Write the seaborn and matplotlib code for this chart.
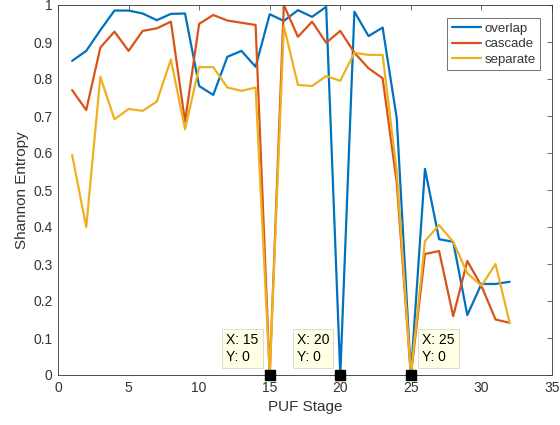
import numpy as np
import pandas as pd
import matplotlib
matplotlib.use("Agg")
import matplotlib.pyplot as plt
import seaborn as sns

# PUF stages and Shannon entropy of each construction
stages = list(range(1, 33))
overlap = [0.849, 0.876, 0.932, 0.985, 0.985, 0.977, 0.959, 0.976, 0.977, 0.781,
           0.757, 0.860, 0.876, 0.833, 0.975, 0.957, 0.986, 0.968, 0.995, 0.0,
           0.982, 0.916, 0.939, 0.694, 0.0, 0.557, 0.367, 0.360, 0.162, 0.246,
           0.246, 0.252]
cascade = [0.770, 0.716, 0.885, 0.928, 0.876, 0.930, 0.937, 0.955, 0.685, 0.949,
           0.973, 0.958, 0.952, 0.946, 0.0, 1.0, 0.914, 0.955, 0.898, 0.930,
           0.871, 0.829, 0.802, 0.52, 0.0, 0.327, 0.335, 0.159, 0.308, 0.241,
           0.150, 0.141]
separate = [0.595, 0.400, 0.806, 0.691, 0.719, 0.714, 0.739, 0.853, 0.664, 0.832,
            0.832, 0.777, 0.768, 0.777, 0.0, 0.943, 0.784, 0.781, 0.808, 0.795,
            0.871, 0.865, 0.865, 0.55, 0.0, 0.362, 0.405, 0.360, 0.275, 0.241,
            0.300, 0.141]
series_names = ["overlap", "cascade", "separate"]
colors = ["#0072BD", "#D95319", "#EDB120"]

# Data tips marking the zero-entropy stages
tip_x = [15, 20, 25]
tip_y = [0, 0, 0]
tip_side = ["left", "left", "right"]

x_ticks = [0, 5, 10, 15, 20, 25, 30, 35]
y_ticks = [0, 0.1, 0.2, 0.3, 0.4, 0.5, 0.6, 0.7, 0.8, 0.9, 1]

df = pd.DataFrame({
    "stage": stages * 3,
    "entropy": overlap + cascade + separate,
    "series": sum([[n] * len(stages) for n in series_names], []),
})

sns.set_style("white")
plt.rcParams["font.family"] = ["Liberation Sans", "DejaVu Sans"]
ink = "#333333"

fig = plt.figure(figsize=(5.6, 4.25), dpi=100)
ax = fig.add_axes([58 / 560, 50 / 425, 494 / 560, 370 / 425])

sns.lineplot(data=df, x="stage", y="entropy", hue="series",
             hue_order=series_names, palette=colors, linewidth=1.6,
             ax=ax, legend=True)

ax.set_xlim(0, 35)
ax.set_ylim(0, 1)
ax.set_xticks(x_ticks)
ax.set_yticks(y_ticks)
ax.set_yticklabels([f"{v:g}" for v in y_ticks])
ax.tick_params(direction="in", length=3.5, width=0.5, colors=ink,
               labelsize=10, top=True, right=True, pad=4)
for sp in ax.spines.values():
    sp.set_visible(True)
    sp.set_color(ink)
    sp.set_linewidth(0.6)

ax.set_xlabel("PUF Stage", fontsize=11, color=ink, labelpad=4)
ax.set_ylabel("Shannon Entropy", fontsize=11, color=ink, labelpad=3)

leg = ax.legend(loc="upper right", bbox_to_anchor=(0.976, 0.965),
                fontsize=9.5, frameon=True, fancybox=False,
                handlelength=2.2, handletextpad=0.25, labelspacing=0.25,
                borderpad=0.35, borderaxespad=0)
leg.get_frame().set_edgecolor(ink)
leg.get_frame().set_linewidth(0.6)
for t in leg.get_texts():
    t.set_color(ink)

# Data tips
ax.plot(tip_x, tip_y, linestyle="none", marker="s", markersize=7,
        color="black", clip_on=False, zorder=5)
for xv, yv, side in zip(tip_x, tip_y, tip_side):
    dx = -11 if side == "left" else 11
    ax.annotate(f"X: {xv}\nY: {yv:g}", xy=(xv, yv), xytext=(dx, 11),
                textcoords="offset pixels",
                ha="right" if side == "left" else "left", va="bottom",
                multialignment="left",
                fontsize=10, color="black", linespacing=1.25,
                bbox=dict(boxstyle="square,pad=0.3", fc="#FFFFE6",
                          ec="#D8D8C8", lw=0.6),
                zorder=6)

fig.savefig("out.png", dpi=100)
